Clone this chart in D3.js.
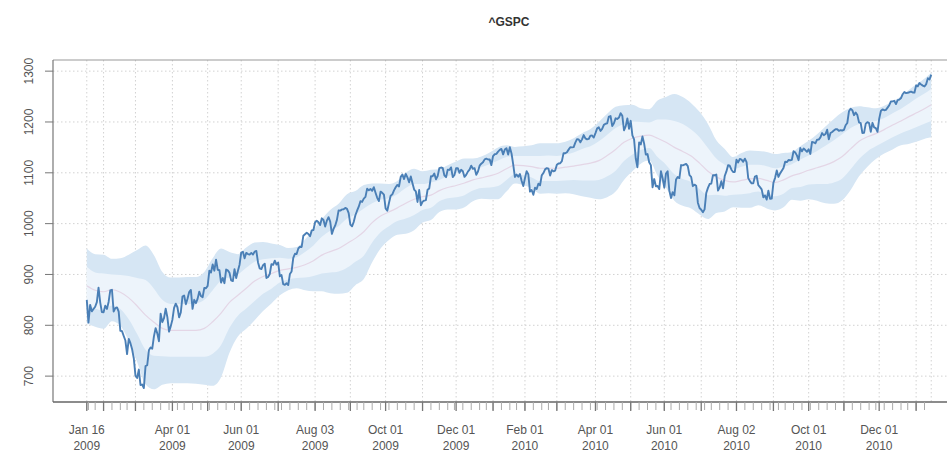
<!DOCTYPE html>
<html><head><meta charset="utf-8">
<script src="https://cdn.jsdelivr.net/npm/d3@7"></script>
<style>body{margin:0;background:#fff}svg{display:block}text{font-family:"Liberation Sans",Arial,sans-serif}</style>
</head><body><svg id="c" width="947" height="455"></svg>
<script>
// ^GSPC daily closes, 2009-01-16 .. 2011-01-14 (one row per month)
const closes = [
850.12,805.22,840.24,827.50,831.95,836.57,845.71,874.09,845.14,825.88,
825.44,838.51,832.23,845.85,868.60,869.89,827.16,833.74,835.19,826.84,789.17,788.42,778.94,770.05,743.33,773.14,764.90,752.83,735.09,
700.82,696.33,712.87,682.55,683.38,676.53,719.60,721.36,750.74,756.55,753.89,778.12,794.35,784.04,768.54,822.92,806.12,813.88,832.86,815.94,787.53,797.87,
811.08,834.38,842.50,835.48,815.55,825.16,856.56,858.73,841.50,852.06,865.30,869.60,832.39,850.08,843.55,851.92,866.23,857.51,855.16,873.64,872.81,
877.52,907.24,903.80,919.53,907.39,929.23,909.24,908.35,883.92,893.07,882.88,909.71,908.13,903.47,888.33,887.00,910.33,893.06,906.83,919.14,
942.87,944.74,931.76,942.46,940.09,939.14,942.43,939.15,944.89,946.21,923.72,911.97,910.71,918.37,921.23,893.04,895.10,900.94,920.26,918.90,927.23,919.32,
923.33,896.42,898.72,881.03,879.56,882.68,879.13,901.05,905.84,932.68,940.74,940.38,951.13,954.58,954.07,976.29,979.26,982.18,979.62,975.15,986.75,987.48,
1002.63,1005.65,1002.72,997.08,1010.48,1007.10,994.35,1005.81,1012.73,1004.09,979.73,989.67,996.46,1007.37,1026.13,1025.57,1028.00,1028.12,1030.98,1028.93,1020.62,
998.04,994.75,1003.24,1016.40,1025.39,1033.37,1044.14,1042.73,1049.34,1052.63,1068.76,1065.49,1068.30,1064.66,1071.66,1060.87,1050.78,1044.38,1062.98,1060.61,1057.08,
1029.85,1025.21,1040.46,1054.72,1057.58,1065.48,1071.49,1076.19,1073.19,1092.02,1096.56,1087.68,1097.91,1091.06,1081.40,1092.91,1079.60,1066.95,1063.41,1042.63,1066.11,1036.19,
1042.88,1045.41,1046.50,1066.63,1069.30,1093.08,1093.01,1098.51,1087.24,1093.48,1109.30,1110.32,1109.80,1094.90,1091.38,1106.24,1105.65,1110.63,1091.49,1095.63,
1108.86,1109.24,1099.92,1105.98,1103.25,1091.94,1095.95,1102.35,1106.41,1114.11,1107.93,1109.18,1096.08,1102.47,1114.05,1118.02,1120.59,1126.48,1127.78,1126.20,1126.42,1115.10,
1132.99,1136.52,1137.14,1141.69,1144.98,1146.98,1136.22,1145.68,1148.46,1136.03,1150.23,1138.04,1116.48,1091.76,1096.78,1092.17,1097.50,1084.53,1073.87,
1089.19,1103.32,1097.28,1063.11,1066.19,1056.74,1070.52,1068.13,1078.47,1075.51,1094.87,1099.51,1106.75,1109.17,1108.01,1094.60,1105.24,1102.94,1104.49,
1115.71,1118.31,1118.79,1122.97,1138.70,1138.50,1140.45,1145.61,1150.24,1149.99,1150.51,1159.46,1166.21,1165.83,1159.90,1165.81,1174.17,1167.72,1165.73,1166.59,1173.22,1173.27,1169.43,
1178.10,1187.44,1189.44,1182.45,1186.44,1194.37,1196.48,1197.30,1210.65,1211.67,1192.13,1197.52,1207.17,1205.94,1208.67,1217.28,1212.05,1183.71,1191.36,1206.78,1186.69,
1202.26,1173.60,1165.87,1128.15,1110.88,1159.73,1155.79,1171.67,1157.44,1135.68,1136.94,1120.80,1115.05,1071.59,1087.69,1073.65,1074.03,1067.95,1103.06,1089.41,
1070.71,1098.38,1102.83,1064.88,1050.47,1062.00,1055.69,1086.84,1091.60,1089.63,1115.23,1114.61,1116.04,1117.51,1113.20,1095.31,1092.04,1073.69,1076.76,1074.57,1041.24,1030.71,
1027.37,1022.58,1028.06,1060.27,1070.25,1077.96,1078.75,1095.34,1095.17,1096.48,1064.88,1071.25,1083.48,1069.59,1093.67,1102.66,1115.01,1113.84,1106.13,1101.53,1101.60,
1125.86,1120.46,1127.24,1125.81,1121.64,1127.79,1121.06,1089.47,1083.61,1079.25,1079.38,1092.54,1094.16,1075.63,1071.69,1067.36,1051.87,1055.33,1047.22,1064.59,1048.92,1049.33,
1080.29,1090.10,1104.51,1091.84,1098.87,1104.18,1109.55,1121.90,1121.10,1125.07,1124.66,1125.59,1142.71,1139.78,1134.28,1124.83,1148.67,1142.16,1147.70,1144.73,1141.20,
1146.24,1137.03,1160.75,1159.97,1158.06,1165.15,1165.32,1169.77,1178.10,1173.81,1176.19,1184.71,1165.90,1178.17,1180.26,1183.08,1185.62,1185.64,1182.45,1183.78,1183.26,
1184.38,1193.57,1197.96,1221.06,1225.85,1223.25,1213.40,1218.71,1213.54,1199.21,1197.75,1178.34,1178.59,1196.69,1199.73,1197.84,1180.73,1198.35,1189.40,1187.76,1180.55,
1206.07,1221.53,1224.71,1223.12,1223.75,1228.28,1233.00,1240.40,1240.46,1241.59,1235.23,1242.87,1243.91,1247.08,1254.60,1258.84,1256.77,1257.54,1258.51,1259.78,1257.88,1257.64,
1271.87,1270.20,1276.56,1273.85,1271.50,1269.75,1274.48,1285.96,1283.76,1293.24];

// 50-day band levels (mean -2sd, -1sd, mean, +1sd, +2sd), every 5th session plus the last one
const bandDays = [0,5,10,15,20,25,30,35,40,45,50,55,60,65,70,75,80,85,90,95,100,105,110,115,120,125,130,135,140,145,150,155,160,165,
170,175,180,185,190,195,200,205,210,215,220,225,230,235,240,245,250,255,260,265,270,275,280,285,290,295,300,305,310,315,320,325,330,335,
340,345,350,355,360,365,370,375,380,385,390,395,400,405,410,415,420,425,430,435,440,445,450,455,460,465,470,475,480,485,490,495,500,503];
const lower2 = [804,797,793,808,799,769,728,684,674,683,686,686,686,685,683,681,698,746,778,793,810,828,843,859,869,873,869,867,867,863,862,864,879,891,
924,951,968,978,980,987,1002,1007,1023,1028,1028,1032,1044,1049,1048,1048,1063,1079,1076,1069,1059,1060,1059,1060,1058,1054,1051,1048,1052,1063,1086,1103,1118,1124,
1094,1071,1045,1035,1030,1018,1009,1021,1024,1032,1031,1031,1036,1030,1026,1032,1047,1045,1048,1045,1040,1039,1046,1066,1093,1112,1127,1138,1146,1154,1157,1162,1168,1170];
const lower1 = [841,833,829,839,832,812,783,752,740,739,738,738,738,738,738,744,761,795,819,833,848,862,872,884,890,893,894,897,902,904,906,913,925,937,
963,983,995,1005,1010,1017,1027,1031,1044,1050,1052,1056,1065,1070,1071,1074,1086,1097,1095,1091,1084,1084,1084,1085,1086,1085,1085,1086,1093,1104,1123,1136,1145,1149,
1131,1116,1097,1088,1082,1068,1056,1057,1055,1057,1058,1060,1063,1057,1054,1059,1070,1072,1077,1078,1078,1081,1089,1107,1127,1142,1152,1161,1170,1178,1184,1191,1198,1202];
const middle = [878,869,866,870,865,854,838,820,806,794,790,790,790,790,794,807,824,845,859,873,887,896,902,908,911,914,919,927,938,945,951,961,971,984,
1002,1015,1023,1031,1040,1048,1053,1056,1065,1071,1075,1080,1086,1090,1094,1099,1108,1115,1114,1112,1109,1109,1109,1111,1113,1116,1119,1124,1134,1146,1160,1168,1172,1174,
1168,1160,1150,1142,1133,1119,1103,1092,1085,1082,1085,1088,1089,1085,1081,1086,1094,1099,1105,1110,1115,1122,1132,1147,1162,1171,1177,1185,1194,1202,1211,1219,1228,1234];
const upper1 = [915,904,902,900,899,897,893,889,872,850,842,842,842,843,850,869,888,894,900,913,925,930,932,933,931,934,944,957,974,986,995,1010,1018,1030,
1040,1047,1050,1058,1070,1078,1078,1081,1086,1093,1099,1104,1107,1111,1117,1124,1131,1133,1133,1133,1133,1134,1133,1136,1140,1147,1152,1162,1175,1188,1196,1201,1200,1199,
1205,1205,1202,1196,1185,1170,1149,1128,1116,1107,1112,1116,1116,1113,1109,1112,1117,1126,1134,1143,1153,1164,1176,1188,1196,1200,1202,1208,1217,1226,1237,1248,1258,1265];
const upper2 = [951,940,939,931,932,939,948,957,938,905,894,894,895,895,905,932,951,944,940,953,963,964,961,958,952,954,969,988,1009,1027,1039,1058,1064,1076,
1079,1079,1078,1084,1100,1108,1103,1106,1107,1115,1122,1128,1128,1132,1140,1150,1154,1151,1152,1154,1158,1158,1158,1161,1168,1178,1186,1200,1216,1230,1233,1234,1227,1225,
1242,1249,1255,1249,1237,1220,1196,1164,1147,1131,1139,1144,1143,1141,1137,1139,1141,1152,1163,1176,1191,1206,1219,1228,1231,1229,1227,1232,1241,1250,1264,1276,1288,1297];

const holidays = ["2009-01-19","2009-02-16","2009-04-10","2009-05-25","2009-07-03","2009-09-07","2009-11-26","2009-12-25",
"2010-01-01","2010-01-18","2010-02-15","2010-04-02","2010-05-31","2010-07-05","2010-09-06","2010-11-25","2010-12-24"];
const tickLabels = [["Jan 16","2009"],["Apr 01","2009"],["Jun 01","2009"],["Aug 03","2009"],["Oct 01","2009"],["Dec 01","2009"],
["Feb 01","2010"],["Apr 01","2010"],["Jun 01","2010"],["Aug 02","2010"],["Oct 01","2010"],["Dec 01","2010"]];
const yTicks = [700,800,900,1000,1100,1200,1300];

(function(){
  // trading-day calendar for the x axis
  const fmt = d3.utcFormat("%Y-%m-%d");
  const dates = [];
  for (let d = new Date(Date.UTC(2009,0,16)); dates.length < closes.length; d = new Date(d.getTime()+864e5)) {
    const wd = d.getUTCDay();
    if (wd === 0 || wd === 6 || holidays.includes(fmt(d))) continue;
    dates.push(d);
  }

  const svg = d3.select("#c");
  const mL = 53, mR = 965, mT = 60, mB = 402;
  const n = closes.length - 1;
  const x = d3.scaleLinear().domain([-0.04*n, 1.04*n]).range([mL, mR]);
  const lo = d3.min(lower2), hi = d3.max(upper2), pad = 0.04*(hi-lo);
  const y = d3.scaleLinear().domain([lo-pad, hi+pad]).range([mB, mT]);

  svg.append("clipPath").attr("id","clip").append("rect")
    .attr("x",mL).attr("y",mT).attr("width",mR-mL).attr("height",mB-mT);

  const monthStarts = [0], weekStarts = [0];
  for (let i = 1; i < dates.length; i++) {
    if (dates[i].getUTCMonth() !== dates[i-1].getUTCMonth()) monthStarts.push(i);
    if (dates[i].getUTCDay() < dates[i-1].getUTCDay() || dates[i]-dates[i-1] > 3*864e5) weekStarts.push(i);
  }
  const gridX = monthStarts.concat([n]);

  // dotted grid
  const g = svg.append("g").attr("stroke","#d2d2d2").attr("stroke-dasharray","1.5,2.5");
  g.selectAll("line.gx").data(gridX).join("line").attr("class","gx")
    .attr("x1",d=>x(d)).attr("x2",d=>x(d)).attr("y1",mT).attr("y2",mB);
  g.selectAll("line.gy").data(yTicks).join("line").attr("class","gy")
    .attr("x1",mL).attr("x2",mR).attr("y1",d=>y(d)).attr("y2",d=>y(d));

  // bands, mean and close
  const plot = svg.append("g").attr("clip-path","url(#clip)");
  const k = d3.range(bandDays.length);
  const curve = d3.curveMonotoneX;
  plot.append("path").datum(k)
    .attr("d", d3.area().curve(curve).x(j=>x(bandDays[j])).y0(j=>y(lower2[j])).y1(j=>y(upper2[j])))
    .attr("fill","#d6e6f4");
  plot.append("path").datum(k)
    .attr("d", d3.area().curve(curve).x(j=>x(bandDays[j])).y0(j=>y(lower1[j])).y1(j=>y(upper1[j])))
    .attr("fill","#edf4fb");
  plot.append("path").datum(k)
    .attr("d", d3.line().curve(curve).x(j=>x(bandDays[j])).y(j=>y(middle[j])))
    .attr("fill","none").attr("stroke","#e4d6e6").attr("stroke-width",1.2);
  plot.append("path").datum(d3.range(closes.length))
    .attr("d", d3.line().x(i=>x(i)).y(i=>y(closes[i])))
    .attr("fill","none").attr("stroke","#4a7fb6").attr("stroke-width",1.9).attr("stroke-linejoin","round");

  // frame
  svg.append("line").attr("x1",mL).attr("x2",mR).attr("y1",mT).attr("y2",mT).attr("stroke","#9a9a9a").attr("stroke-width",1.2);
  svg.append("line").attr("x1",mL).attr("x2",mL).attr("y1",mT).attr("y2",mB).attr("stroke","#777").attr("stroke-width",1.2);
  svg.append("line").attr("x1",mL).attr("x2",mR).attr("y1",mB).attr("y2",mB).attr("stroke","#666").attr("stroke-width",1.6);

  // y axis
  svg.selectAll("line.yt").data(yTicks).join("line").attr("class","yt")
    .attr("x1",mL-8).attr("x2",mL).attr("y1",d=>y(d)).attr("y2",d=>y(d)).attr("stroke","#777");
  svg.selectAll("text.yl").data(yTicks).join("text").attr("class","yl")
    .attr("transform",d=>`translate(33,${y(d)}) rotate(-90)`).attr("text-anchor","middle")
    .attr("font-size",12).attr("fill","#555").text(d=>d);

  // x axis: weekly and monthly ticks, bi-monthly labels
  svg.selectAll("line.xw").data(weekStarts).join("line").attr("class","xw")
    .attr("x1",d=>x(d)).attr("x2",d=>x(d)).attr("y1",mB).attr("y2",mB+8).attr("stroke","#aaa");
  svg.selectAll("line.xm").data(monthStarts).join("line").attr("class","xm")
    .attr("x1",d=>x(d)).attr("x2",d=>x(d)).attr("y1",mB).attr("y2",mB+9).attr("stroke","#777").attr("stroke-width",1.3);
  const parse = d3.utcParse("%b %d %Y");
  const labelIdx = tickLabels.map(t => Math.max(0, dates.findIndex(d => +d === +parse(t[0]+" "+t[1]))));
  const xl = svg.selectAll("text.xl").data(tickLabels).join("text").attr("class","xl")
    .attr("text-anchor","middle").attr("font-size",12).attr("fill","#555");
  xl.append("tspan").attr("x",(d,i)=>x(labelIdx[i])).attr("y",434).text(d=>d[0]);
  xl.append("tspan").attr("x",(d,i)=>x(labelIdx[i])).attr("y",450).text(d=>d[1]);

  svg.append("text").attr("x",(mL+mR)/2).attr("y",26).attr("text-anchor","middle")
    .attr("font-size",12).attr("font-weight","bold").attr("fill","#333").text("^GSPC");
})();
</script></body></html>
